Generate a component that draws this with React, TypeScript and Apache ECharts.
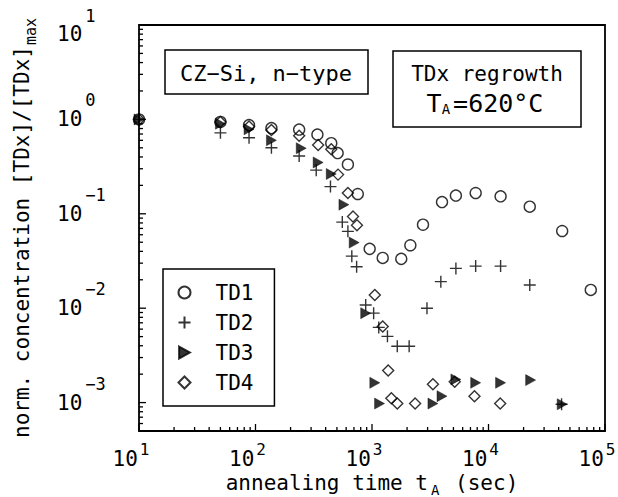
import React, { useEffect, useRef } from 'react';
import * as echarts from 'echarts';

// ---- data (annealing time in s, normalised concentration) ----
const td1Time = [10, 50, 88, 137, 237, 340, 447, 507, 621, 755, 955, 1236, 1783, 2134, 2740, 3990, 5250, 7760, 12700, 22600, 42900, 75500];
const td1Conc = [1, 0.94, 0.87, 0.81, 0.78, 0.69, 0.56, 0.44, 0.333, 0.162, 0.0425, 0.0341, 0.0333, 0.0464, 0.0766, 0.133, 0.156, 0.166, 0.153, 0.119, 0.0657, 0.0156];

const td2Time = [10, 50, 88, 137, 237, 332, 440, 556, 621, 671, 738, 883, 1033, 1143, 1357, 1648, 2084, 2964, 3898, 5250, 7760, 12700, 22600, 42400];
const td2Conc = [1, 0.72, 0.64, 0.5, 0.41, 0.29, 0.194, 0.0817, 0.0652, 0.0356, 0.0275, 0.0108, 0.00886, 0.00626, 0.00503, 0.00395, 0.00395, 0.01, 0.0191, 0.0264, 0.0279, 0.0279, 0.0176, 0.00096];

const td3Time = [10, 50, 88, 137, 247, 345, 447, 574, 703, 883, 1057, 1161, 3334, 3990, 5250, 7760, 12700, 23000, 42900];
const td3Conc = [1, 0.9, 0.785, 0.6, 0.495, 0.35, 0.264, 0.125, 0.0495, 0.00886, 0.00162, 0.000976, 0.000976, 0.00117, 0.00176, 0.00162, 0.00162, 0.00173, 0.00096];

const td4Time = [10, 50, 88, 137, 237, 345, 447, 511, 621, 687, 743, 1057, 1236, 1377, 1466, 1648, 2344, 3334, 5130, 7580, 12600];
const td4Conc = [1, 0.94, 0.84, 0.77, 0.67, 0.537, 0.483, 0.26, 0.166, 0.0938, 0.0754, 0.0138, 0.0064, 0.00219, 0.00111, 0.000976, 0.000976, 0.00156, 0.00166, 0.00117, 0.000976];

const seriesNames = ['TD1', 'TD2', 'TD3', 'TD4'];

// axis ranges and tick values
const X_MIN = 10;
const X_MAX = 100000;
const Y_MIN = 5e-4;
const Y_MAX = 10;
const xDecades = [10, 100, 1000, 10000];
const yDecades = [1e-4, 1e-3, 1e-2, 1e-1, 1];
const minorMultipliers = [2, 3, 4, 5, 6, 7, 8, 9];

const FONT = "'DejaVu Sans Mono', monospace";

function pair(xs: number[], ys: number[]) {
  return xs.map((x, i) => [x, ys[i]]);
}

function buildTicks() {
  const out: number[][] = [];
  [...xDecades, X_MAX].forEach((d) => out.push([d, Y_MIN, 7, 0]));
  xDecades.forEach((d) => minorMultipliers.forEach((m) => {
    const v = d * m;
    if (v > X_MIN && v < X_MAX) out.push([v, Y_MIN, 4, 0]);
  }));
  [...yDecades, 10].forEach((d) => {
    if (d >= Y_MIN && d <= Y_MAX) out.push([X_MIN, d, 7, 1]);
  });
  yDecades.forEach((d) => minorMultipliers.forEach((m) => {
    const v = d * m;
    if (v >= Y_MIN && v < Y_MAX) out.push([X_MIN, v, 4, 1]);
  }));
  return out;
}

function expLabel(v: number, bKey: string, sKey: string) {
  const l = Math.log10(v);
  const e = Math.round(l);
  if (Math.abs(l - e) > 1e-6) return '';
  const s = e < 0 ? '\u2212' + -e : String(e);
  return `{${bKey}|10}{${sKey}|${s}}`;
}

export default function App() {
  const ref = useRef<HTMLDivElement>(null);

  useEffect(() => {
    if (!ref.current) return;
    const chart = echarts.init(ref.current, null, { renderer: 'svg' });

    const hollow = { color: 'rgba(0,0,0,0)', borderColor: '#000', borderWidth: 1.4 };

    const option: any = {
      animation: false,
      backgroundColor: '#fff',
      textStyle: { fontFamily: FONT, color: '#000' },
      grid: {
        left: 139, right: 13, top: 25, bottom: 66,
        outerBoundsMode: 'none',
        containLabel: false,
        show: true, borderColor: '#000', borderWidth: 1.8, backgroundColor: 'transparent',
      },
      xAxis: {
        type: 'log', logBase: 10, min: X_MIN, max: X_MAX,
        offset: 8,
        axisLine: { show: false }, axisTick: { show: false }, splitLine: { show: false },
        axisLabel: {
          margin: 9,
          padding: [0, 16, 0, 0],
          formatter: (v: number) => expLabel(v, 'bx', 'sx'),
          rich: {
            bx: { fontFamily: FONT, fontSize: 21, lineHeight: 22, color: '#000' },
            sx: { fontFamily: FONT, fontSize: 16, lineHeight: 16, color: '#000', padding: [0, 0, 20, 2] },
          },
        },
        name: '{a|annealing time t}{sub|A}{a| (sec)}',
        nameLocation: 'middle',
        nameGap: 33,
        nameMoveOverlap: false,
        nameTextStyle: {
          rich: {
            a: { fontFamily: FONT, fontSize: 21, lineHeight: 22, color: '#000' },
            sub: { fontFamily: FONT, fontSize: 14, lineHeight: 14, color: '#000', padding: [14, 3, 0, 3] },
          },
        },
      },
      yAxis: {
        type: 'log', logBase: 10, min: Y_MIN, max: Y_MAX,
        axisLine: { show: false }, axisTick: { show: false }, splitLine: { show: false },
        axisLabel: {
          margin: 82,
          align: 'left',
          formatter: (v: number) => (v >= Y_MAX * 0.999 ? expLabel(v, 'bt', 'st') : expLabel(v, 'b', 'sy')),
          rich: {
            b: { fontFamily: FONT, fontSize: 21, lineHeight: 22, color: '#000' },
            sy: { fontFamily: FONT, fontSize: 17, lineHeight: 17, color: '#000', padding: [0, 0, 38, 3] },
            bt: { fontFamily: FONT, fontSize: 21, lineHeight: 22, color: '#000', padding: [18, 0, 0, 0] },
            st: { fontFamily: FONT, fontSize: 17, lineHeight: 17, color: '#000', padding: [0, 0, 18, 3] },
          },
        },
        name: '{a|norm. concentration [TDx]/[TDx]}{sub|max}',
        nameLocation: 'middle',
        nameRotate: 90,
        nameGap: 106,
        nameMoveOverlap: false,
        nameTextStyle: {
          rich: {
            a: { fontFamily: FONT, fontSize: 21, lineHeight: 22, color: '#000' },
            sub: { fontFamily: FONT, fontSize: 15, lineHeight: 15, color: '#000', padding: [18, 0, 0, 1] },
          },
        },
      },
      legend: {
        data: seriesNames,
        orient: 'vertical',
        left: 163, top: 269,
        padding: [13, 21, 13, 13],
        itemGap: 9,
        itemWidth: 12, itemHeight: 12,
        borderColor: '#000', borderWidth: 1.5,
        backgroundColor: '#fff',
        z: 10,
        textStyle: { fontFamily: FONT, fontSize: 21, color: '#000', padding: [0, 0, 0, 20] },
      },
      graphic: [
        {
          type: 'rect', shape: { x: 165, y: 50, width: 203, height: 44 },
          style: { fill: '#fff', stroke: '#000', lineWidth: 1.5 }, z: 10,
        },
        {
          type: 'text', x: 266, y: 73, z: 11,
          style: { text: 'CZ\u2212Si, n\u2212type', fontFamily: FONT, fontSize: 22, fill: '#000', align: 'center', verticalAlign: 'middle' },
        },
        {
          type: 'rect', shape: { x: 393, y: 51, width: 188, height: 76 },
          style: { fill: '#fff', stroke: '#000', lineWidth: 1.5 }, z: 10,
        },
        {
          type: 'text', x: 487, y: 74, z: 11,
          style: { text: 'TDx regrowth', fontFamily: FONT, fontSize: 21, fill: '#000', align: 'center', verticalAlign: 'middle' },
        },
        {
          type: 'text', x: 485, y: 103, z: 11,
          style: {
            text: '{m|T}{s|A}{m|=620\u00b0C}',
            align: 'center', verticalAlign: 'middle',
            rich: {
              m: { fontFamily: FONT, fontSize: 25, lineHeight: 25, fill: '#000', color: '#000' },
              s: { fontFamily: FONT, fontSize: 14, lineHeight: 14, fill: '#000', color: '#000', padding: [12, 3, 0, 0] },
            },
          },
        },
      ],
      series: [
        {
          name: 'TD1', type: 'scatter', data: pair(td1Time, td1Conc),
          symbol: 'circle', symbolSize: 11, itemStyle: hollow, z: 3,
        },
        {
          name: 'TD2', type: 'scatter', data: pair(td2Time, td2Conc),
          symbol: 'path://M5,0L5,10M0,5L10,5', symbolSize: 12,
          itemStyle: { color: 'none', borderColor: '#000', borderWidth: 1.4 }, z: 3,
        },
        {
          name: 'TD3', type: 'scatter', data: pair(td3Time, td3Conc),
          symbol: 'path://M0,0L9,5L0,10Z', symbolSize: [10, 11],
          itemStyle: { color: '#000', borderColor: '#000', borderWidth: 0.5 }, z: 3,
        },
        {
          name: 'TD4', type: 'scatter', data: pair(td4Time, td4Conc),
          symbol: 'diamond', symbolSize: 11, itemStyle: hollow, z: 3,
        },
        {
          name: 'ticks', type: 'custom', data: buildTicks(), silent: true, clip: false, z: 4,
          renderItem: (params: any, api: any) => {
            const p = api.coord([api.value(0), api.value(1)]);
            const len = api.value(2);
            const axis = api.value(3);
            const shape = axis === 0
              ? { x1: p[0], y1: p[1], x2: p[0], y2: p[1] - len }
              : { x1: p[0], y1: p[1], x2: p[0] + len, y2: p[1] };
            return { type: 'line', shape, style: { stroke: '#000', lineWidth: 1.3 } };
          },
        },
      ],
    };

    chart.setOption(option);
    return () => chart.dispose();
  }, []);

  return (
    <div
      ref={ref}
      style={{ position: 'absolute', left: 0, top: 0, width: 618, height: 497, background: '#fff' }}
    />
  );
}
